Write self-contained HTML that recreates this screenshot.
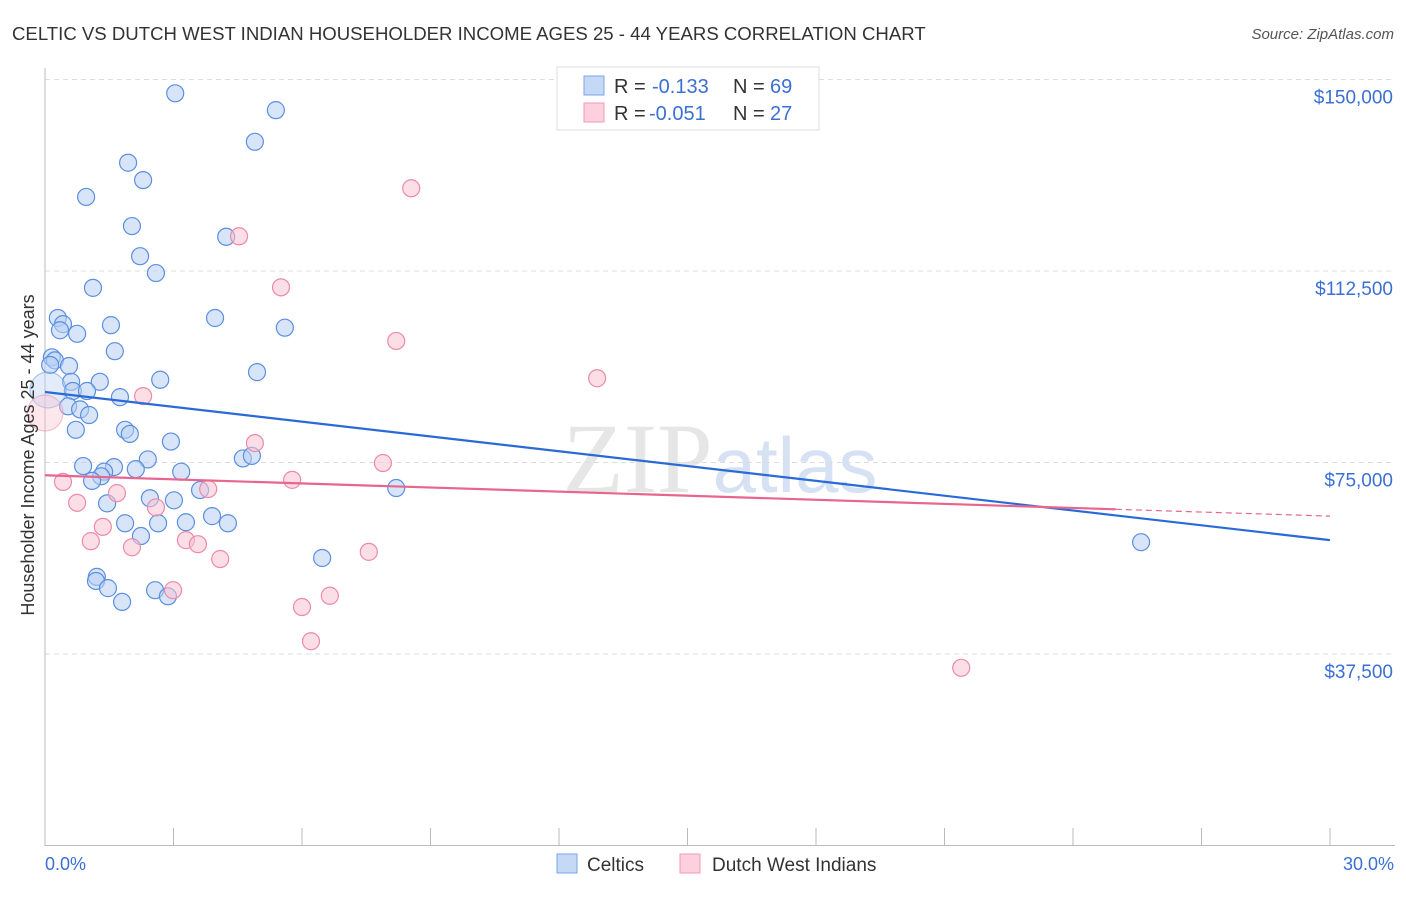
<!DOCTYPE html>
<html><head><meta charset="utf-8"><style>
body{margin:0;background:#fff;font-family:"Liberation Sans",sans-serif;}
</style></head><body>
<svg width="1406" height="892" xmlns="http://www.w3.org/2000/svg" font-family="Liberation Sans, sans-serif">
<text x="12" y="40" font-size="18.6" fill="#333">CELTIC VS DUTCH WEST INDIAN HOUSEHOLDER INCOME AGES 25 - 44 YEARS CORRELATION CHART</text>
<text x="1394" y="39" font-size="15" fill="#555" font-style="italic" text-anchor="end">Source: ZipAtlas.com</text>
<text x="720" y="492" font-size="100" fill="#e6e6e6" text-anchor="middle" font-family="Liberation Serif, serif">ZIP<tspan fill="#d6e2f3" font-family="Liberation Sans, sans-serif" font-size="78">atlas</tspan></text>
<g id="grid"></g><g id="axes"></g><g id="pts"></g><g id="trend"></g>
<text transform="translate(34,455) rotate(-90)" font-size="18" fill="#333" text-anchor="middle">Householder Income Ages 25 - 44 years</text>
<text x="45" y="870" font-size="18" fill="#3b6fd4">0.0%</text>
<text x="1394" y="870" font-size="18" fill="#3b6fd4" text-anchor="end">30.0%</text>
<g>
<rect x="557" y="67" width="262" height="63" fill="#fff" stroke="#ddd"/>
<rect x="584" y="76" width="20" height="19" fill="#c5d8f5" stroke="#7aa5e6"/>
<rect x="584" y="103" width="20" height="19" fill="#fcd0dd" stroke="#ef9ab5"/>
<text y="93" font-size="20" fill="#333"><tspan x="614">R =</tspan><tspan x="652" fill="#3b6fd4">-0.133</tspan><tspan x="733">N =</tspan><tspan x="770" fill="#3b6fd4">69</tspan></text>
<text y="120" font-size="20" fill="#333"><tspan x="614">R =</tspan><tspan x="649" fill="#3b6fd4">-0.051</tspan><tspan x="733">N =</tspan><tspan x="770" fill="#3b6fd4">27</tspan></text>
</g>
<g>
<rect x="557" y="854" width="20" height="19" fill="#c5d8f5" stroke="#7aa5e6"/>
<text x="587" y="871" font-size="19" fill="#333">Celtics</text>
<rect x="680" y="854" width="20" height="19" fill="#fcd0dd" stroke="#ef9ab5"/>
<text x="712" y="871" font-size="19" fill="#333">Dutch West Indians</text>
</g>
</svg>
<script>
const yTicks=[37500,75000,112500,150000];
const yTickLabels=["$37,500","$75,000","$112,500","$150,000"];
const xTicks=[0,3,6,9,12,15,18,21,24,27,30];
const celticX=[3.04,5.39,4.90,1.94,2.29,0.96,2.03,4.23,2.22,2.59,1.12,3.97,5.60,0.30,0.42,0.35,1.54,0.75,1.63,0.16,0.23,0.12,0.56,4.95,2.69,0.61,1.28,0.65,0.98,1.75,0.54,0.82,1.03,1.87,1.98,0.72,2.94,2.40,4.62,4.83,0.89,1.61,2.12,3.18,1.38,1.31,1.10,3.62,8.20,2.45,3.01,1.45,3.90,3.29,4.27,2.64,1.87,2.24,6.47,25.59,1.21,1.19,1.47,2.57,2.87,1.80,0.07];
const celticY=[147.3,144.0,137.8,133.7,130.3,127.0,121.3,119.2,115.4,112.1,109.2,103.3,101.4,103.3,102.1,100.9,101.9,100.2,96.8,95.6,95.0,94.1,93.9,92.7,91.2,90.8,90.8,89.0,89.0,87.8,86.0,85.4,84.3,81.4,80.6,81.4,79.1,75.6,75.8,76.3,74.3,74.1,73.7,73.2,73.2,72.3,71.4,69.6,70.0,68.0,67.6,67.0,64.5,63.3,63.1,63.1,63.1,60.6,56.3,59.4,52.6,51.8,50.4,50.0,48.8,47.7,89.2];
const dutchX=[8.55,4.53,5.51,8.20,12.89,2.29,4.90,7.89,0.42,5.77,3.81,1.68,2.59,0.75,1.35,3.29,1.07,3.57,2.03,4.09,7.56,2.99,6.00,6.65,6.21,21.39,0.0];
const dutchY=[128.7,119.3,109.3,98.8,91.5,88.0,78.8,74.9,71.2,71.6,69.8,69.0,66.2,67.1,62.4,59.8,59.6,59.0,58.4,56.1,57.5,50.0,46.7,48.9,40.0,34.8,84.7];
const celticTrend=[88.8,59.8];
const dutchTrend=[72.5,64.5];
const NS="http://www.w3.org/2000/svg";
const X=p=>45+p*42.833;
function yv(v){return 845.5-v/37500*191.5;}
function mk(t,a,p){const e=document.createElementNS(NS,t);for(const k in a)e.setAttribute(k,a[k]);document.getElementById(p).appendChild(e);return e;}
yTicks.forEach((v,i)=>{
 const l=mk('line',{x1:45,x2:1395,y1:yv(v),y2:yv(v),stroke:'#ddd','stroke-dasharray':'5,4'},'grid');
 
 
 const t=mk('text',{x:1393,y:yv(v)+24,'font-size':19,fill:'#3b6fd4','text-anchor':'end'},'grid');
 t.textContent=yTickLabels[i];
 
 
});
let ax=mk('line',{x1:45,x2:45,y1:68,y2:846,stroke:'#bbb'},'axes');


ax=mk('line',{x1:45,x2:1395,y1:845.5,y2:845.5,stroke:'#bbb'},'axes');


xTicks.forEach(p=>{
 const t=mk('line',{x1:X(p),x2:X(p),y1:828,y2:846,stroke:'#bbb'},'axes');
 
 
});
function pts(xs,ys,fill,stroke,name){
 xs.forEach((p,i)=>{
  const big=i===xs.length-1;
  const c=mk('circle',{cx:X(p),cy:yv(ys[i]*1000),r:big?18:8.5,fill:fill,'fill-opacity':big?0.4:0.55,stroke:stroke,'stroke-width':1.2,'stroke-opacity':big?0.5:1},'pts');
  
  
 });
}
pts(celticX,celticY,'#b8d0f2','#5b8fe0','celtic-point');
pts(dutchX,dutchY,'#f9c3d3','#ec8aa8','dutch-point');
let tl=mk('line',{x1:X(0),y1:yv(celticTrend[0]*1000),x2:X(30),y2:yv(celticTrend[1]*1000),stroke:'#2a6ad6','stroke-width':2.2},'trend');


const dAt=p=>dutchTrend[0]+(dutchTrend[1]-dutchTrend[0])*p/30;
tl=mk('line',{x1:X(0),y1:yv(dAt(0)*1000),x2:X(25),y2:yv(dAt(25)*1000),stroke:'#e8668e','stroke-width':2.2},'trend');


tl=mk('line',{x1:X(25),y1:yv(dAt(25)*1000),x2:X(30),y2:yv(dAt(30)*1000),stroke:'#e8668e','stroke-width':1.2,'stroke-dasharray':'6,4'},'trend');


</script>
</body></html>
